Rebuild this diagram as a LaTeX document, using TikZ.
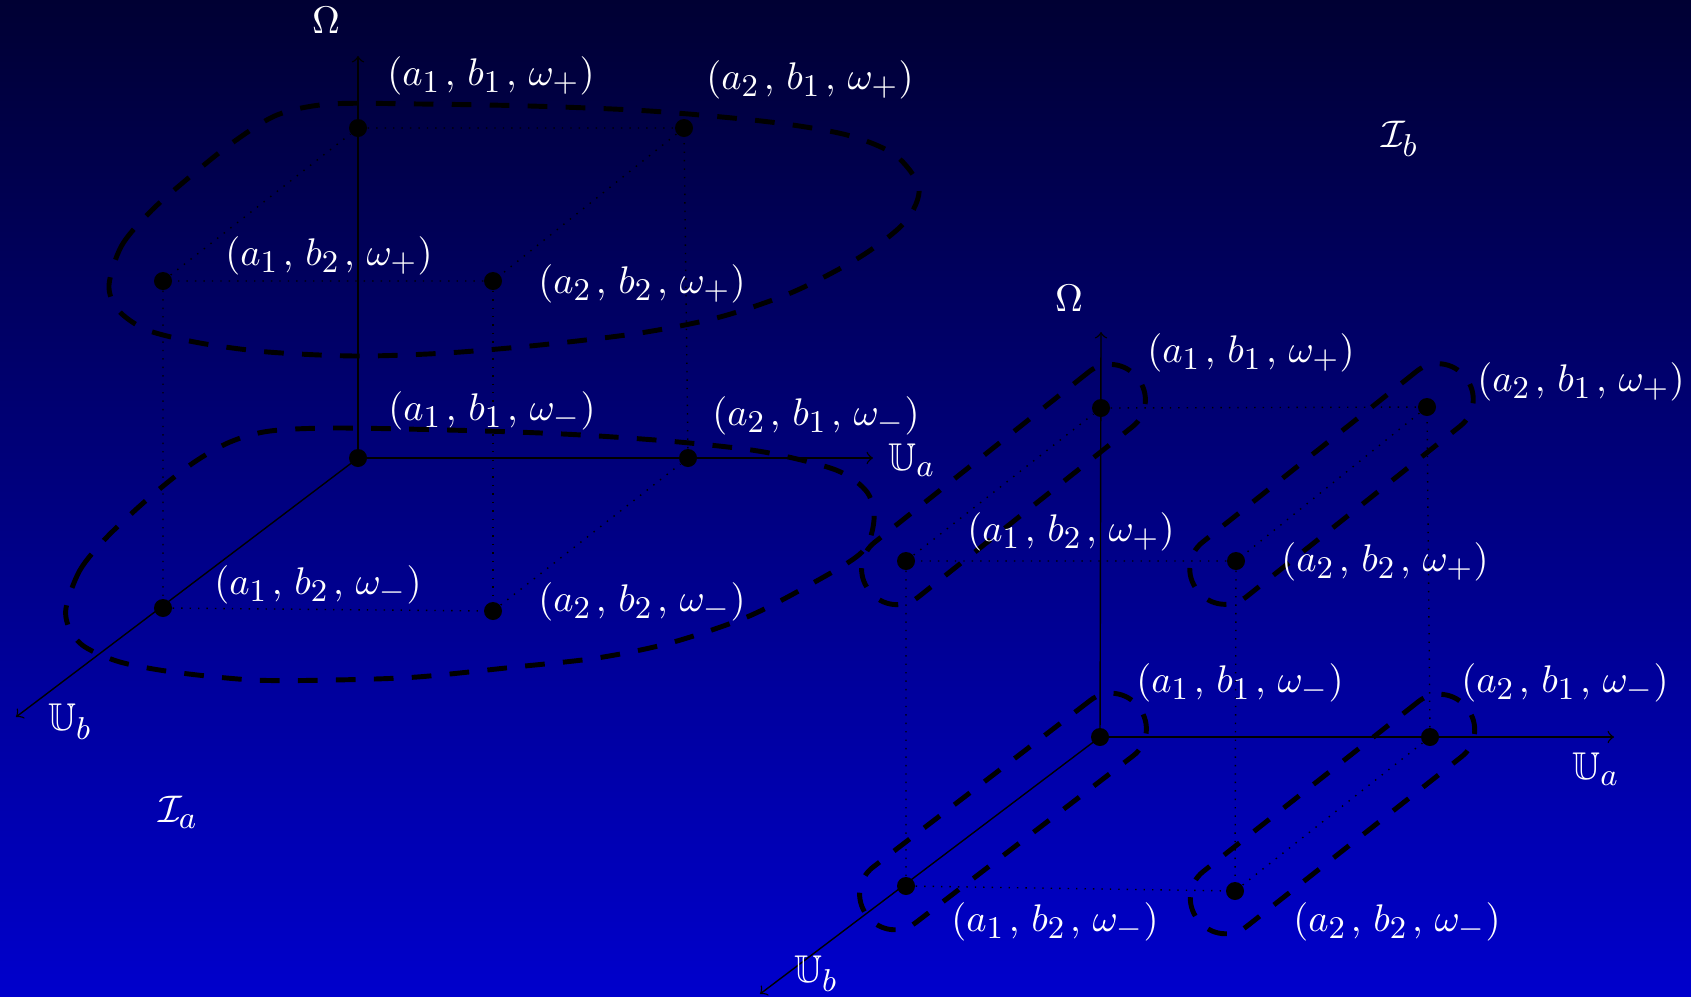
\documentclass[tikz,border=0pt]{standalone}
\usepackage{amsmath, amssymb}
\usetikzlibrary{calc}
\definecolor{skytop}{RGB}{0, 0, 51}
\definecolor{skybottom}{RGB}{0, 0, 204}
\DeclareMathSizes{11}{11}{8.6}{7}
\newcommand{\triple}[3]{$(a_{#1}\mkern2mu,\mkern2.5mu b_{#2}\mkern2mu,\mkern2.5mu\omega_{#3})$}

\begin{document}
\begin{tikzpicture}[x=0.01cm, y=-0.01cm,
  dot/.style={circle, fill=black, inner sep=0pt, minimum size=1.8mm},
  lbl/.style={text=white, inner sep=0pt, font=\fontsize{11}{13}\selectfont},
  blob/.style={draw=black, line width=1.4pt, dash pattern=on 5.6pt off 5.2pt},
  capsule/.style={blob, rectangle, rounded corners=3.4mm, minimum width=34.2mm, minimum height=7mm, inner sep=0pt}]

  \useasboundingbox (0,0) rectangle (1691,996);
  \shade[top color=skytop, bottom color=skybottom] (0,0) rectangle (1691,996);

  % left cube: the two levels grouped by omega
  \node[dot] (l11p) at (358,128) {};
  \node[dot] (l21p) at (684,128) {};
  \node[dot] (l12p) at (163,281) {};
  \node[dot] (l22p) at (493,281) {};
  \node[dot] (l11m) at (358,458) {};
  \node[dot] (l21m) at (688,458) {};
  \node[dot] (l12m) at (163,608) {};
  \node[dot] (l22m) at (493,611) {};
  \coordinate (lzt) at (358,56);
  \coordinate (lxa) at (873,458);
  \coordinate (lyb) at (16,717);

  \draw[->] (l11m.center) -- (lzt);
  \draw[->] (l11m.center) -- (lxa);
  \draw[->] (l11m.center) -- (lyb);
  \draw[dotted] (l11p) -- (l21p) -- (l22p) -- (l12p) -- (l11p);
  \draw[dotted] (l12p) -- (l12m) -- (l22m) -- (l21m) -- (l21p);
  \draw[dotted] (l22p) -- (l22m);

  \draw[blob] plot[smooth cycle] coordinates {(109,285) (122,245) (152,210) (192,175) (232,143) (277,115) (330,104) (420,104) (530,106) (650,111) (770,122) (847,135) (895,155) (919,188) (905,222) (860,257) (793,292) (720,317) (640,333) (540,345) (446,353) (357,356) (268,352) (200,343) (147,330) (118,310)};
  \draw[blob] plot[smooth cycle] coordinates {(66,608) (80,570) (107,537) (150,497) (193,463) (230,442) (270,431) (340,428) (485,431) (582,435) (679,442) (764,452) (836,470) (867,492) (874,520) (862,552) (813,583) (747,617) (670,643) (597,658) (515,667) (417,677) (333,680) (253,680) (173,672) (120,662) (85,647) (70,630)};

  \node[lbl] at (326,20) {$\Omega$};
  \node[lbl] at (912,460) {$\mathbb{U}_a$};
  \node[lbl] at (70,722) {$\mathbb{U}_b$};
  \node[lbl] at (178,812) {$\mathcal{I}_a$};
  \node[lbl] at (491,76) {\triple{1}{1}{+}};
  \node[lbl] at (810,80) {\triple{2}{1}{+}};
  \node[lbl] at (329,256) {\triple{1}{2}{+}};
  \node[lbl] at (642,284) {\triple{2}{2}{+}};
  \node[lbl] at (492,411) {\triple{1}{1}{-}};
  \node[lbl] at (816,416) {\triple{2}{1}{-}};
  \node[lbl] at (318,585) {\triple{1}{2}{-}};
  \node[lbl] at (642,602) {\triple{2}{2}{-}};

  % right cube: grouped by a and omega
  \node[dot] (r11p) at (1101,408) {};
  \node[dot] (r21p) at (1427,407) {};
  \node[dot] (r12p) at (906,561) {};
  \node[dot] (r22p) at (1236,561) {};
  \node[dot] (r11m) at (1100,737) {};
  \node[dot] (r21m) at (1430,737) {};
  \node[dot] (r12m) at (906,886) {};
  \node[dot] (r22m) at (1235,891) {};
  \coordinate (rzt) at (1101,332);
  \coordinate (rxa) at (1614,737);
  \coordinate (ryb) at (760,994);

  \draw[->] (r11m.center) -- (rzt);
  \draw[->] (r11m.center) -- (rxa);
  \draw[->] (r11m.center) -- (ryb);
  \draw[dotted] (r11p) -- (r21p) -- (r22p) -- (r12p) -- (r11p);
  \draw[dotted] (r12p) -- (r12m) -- (r22m) -- (r21m) -- (r21p);
  \draw[dotted] (r22p) -- (r22m);

  \node[capsule, rotate=38.5] at ($(r11p)!0.5!(r12p)$) {};
  \node[capsule, rotate=38.6] at ($(r21p)!0.5!(r22p)$) {};
  \node[capsule, rotate=37.5] at ($(r11m)!0.5!(r12m)$) {};
  \node[capsule, rotate=38.3] at ($(r21m)!0.5!(r22m)$) {};

  \node[lbl] at (1069,298) {$\Omega$};
  \node[lbl] at (1596,769) {$\mathbb{U}_a$};
  \node[lbl] at (816,974) {$\mathbb{U}_b$};
  \node[lbl] at (1400,139) {$\mathcal{I}_b$};
  \node[lbl] at (1251,353) {\triple{1}{1}{+}};
  \node[lbl] at (1581,382) {\triple{2}{1}{+}};
  \node[lbl] at (1071,532) {\triple{1}{2}{+}};
  \node[lbl] at (1385,562) {\triple{2}{2}{+}};
  \node[lbl] at (1240,683) {\triple{1}{1}{-}};
  \node[lbl] at (1565,683) {\triple{2}{1}{-}};
  \node[lbl] at (1055,922) {\triple{1}{2}{-}};
  \node[lbl] at (1397,922) {\triple{2}{2}{-}};
\end{tikzpicture}
\end{document}
